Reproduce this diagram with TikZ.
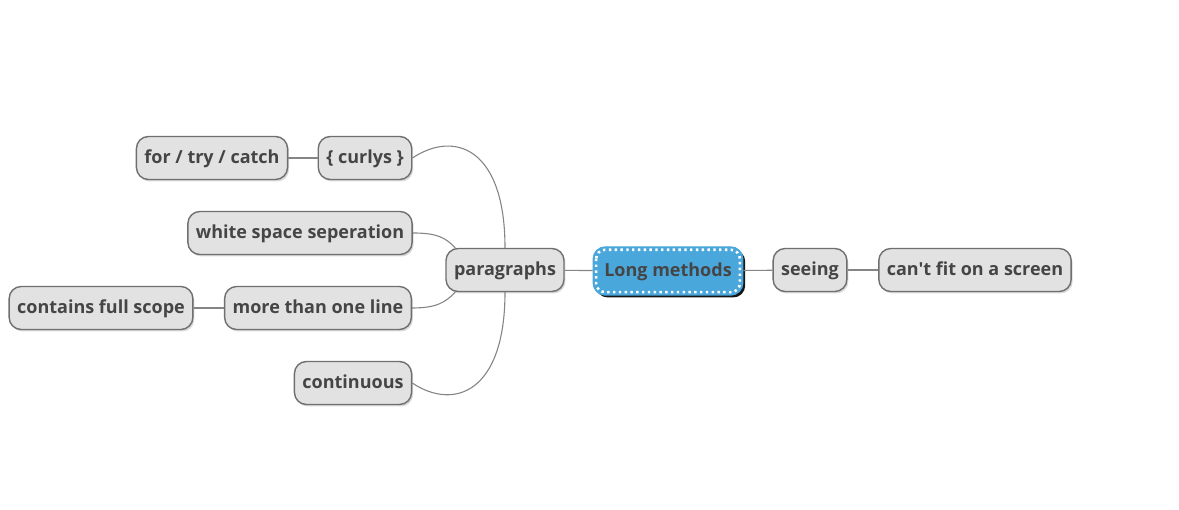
\documentclass[tikz,border=0pt]{standalone}
\usepackage{fontspec}
\setmainfont{Open Sans}[Ligatures=TeXOff]
\usepackage{xcolor}
\usepackage{tikz}
\usetikzlibrary{shapes,shadows}
\definecolor{lightgraybox}{HTML}{E2E2E2}
\definecolor{edgegray}{HTML}{6F6F6F}
\definecolor{textgray}{HTML}{454545}
\definecolor{lineblue}{HTML}{4AA7DC}

\tikzset{
  topic/.style={draw=edgegray, line width=1.4pt, fill=lightgraybox, rounded corners=12pt,
    text=textgray, font=\fontsize{18}{21}\selectfont\bfseries, inner xsep=8pt,
    minimum height=43pt, text height=14pt, text depth=3pt,
    drop shadow={opacity=0.3, shadow xshift=1.5pt, shadow yshift=-2pt}},
  root/.style={topic, fill=lineblue, draw=lineblue, minimum height=48pt, inner xsep=11pt,
    drop shadow={opacity=0.9, fill=black, shadow xshift=2.5pt, shadow yshift=-2.5pt}},
  link/.style={draw=edgegray!85, line width=1.1pt}
}

\begin{document}
\begin{tikzpicture}[x=1pt, y=-1pt]
      \useasboundingbox (0,0) rectangle (1179,510);

      % Centre
      \node[root] (long) at (668,271) {Long methods};
      \draw[white, line width=2.6pt, dash pattern=on 2.4pt off 3.4pt, rounded corners=9pt]
        ([shift={(3.5,3.5)}]long.north west) rectangle ([shift={(-3.5,-3.5)}]long.south east);

      % Right branch
      \node[topic] (seeing) at (810,270) {seeing};
      \node[topic] (screen) at (975,270) {can't fit on a screen};

      % Left branch
      \node[topic] (paragraphs) at (505,270) {paragraphs};
      \node[topic] (curlys) at (365,158) {\{ curlys \}};
      \node[topic] (loops) at (212,158) {for / try / catch};
      \node[topic] (whitespace) at (300,233) {white space seperation};
      \node[topic] (oneline) at (318,308) {more than one line};
      \node[topic] (scope) at (101,308) {contains full scope};
      \node[topic] (continuous) at (353,383) {continuous};

      % Connectors
      \draw[link] (long) -- (seeing);
      \draw[link] (seeing) -- (screen);
      \draw[link] (long) -- (paragraphs);
      \draw[link] (loops) -- (curlys);
      \draw[link] (scope) -- (oneline);
      \draw[link] (paragraphs.north) .. controls +(0,-100) and +(42,-28) .. (curlys.east);
      \draw[link] (paragraphs.south) .. controls +(0,100) and +(42,28) .. (continuous.east);
      \draw[link] ([xshift=10pt]paragraphs.north west) .. controls +(-10,-10) and +(25,0) .. (whitespace.east);
      \draw[link] ([xshift=10pt]paragraphs.south west) .. controls +(-10,10) and +(25,0) .. (oneline.east);
    \end{tikzpicture}
\end{document}
